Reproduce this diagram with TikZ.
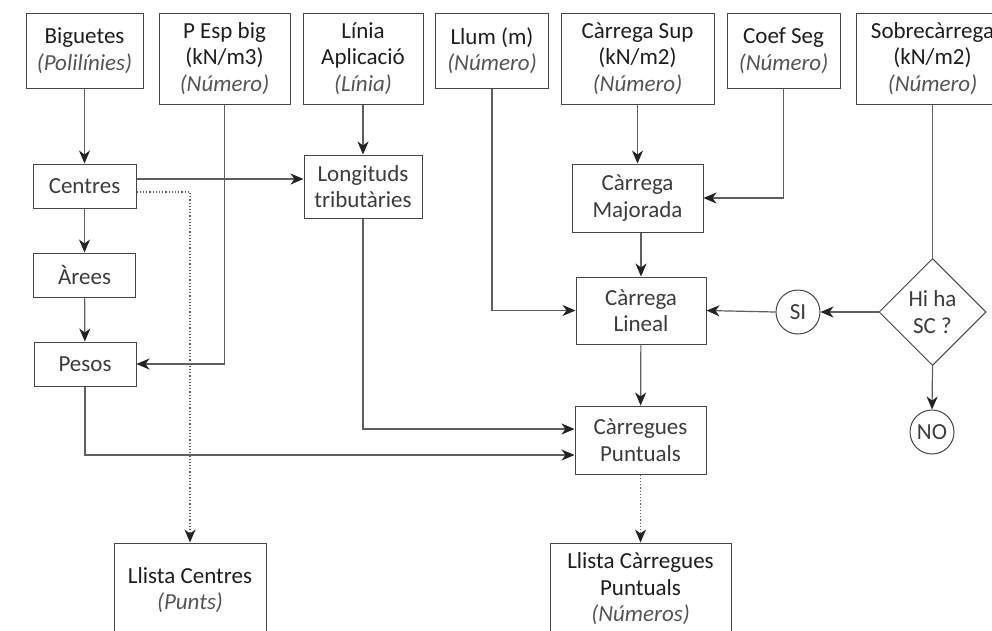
\documentclass[tikz,border=0pt]{standalone}
\usepackage{fontspec}
\setmainfont{Carlito}
\usetikzlibrary{arrows.meta,shapes.geometric}
\definecolor{bordercol}{RGB}{70,70,70}
\definecolor{linecol}{RGB}{95,95,95}
\definecolor{tipcol}{RGB}{35,35,35}
\definecolor{titlecol}{RGB}{30,30,30}
\definecolor{subcol}{RGB}{85,85,85}
\definecolor{proccol}{RGB}{60,60,60}
\newcommand\subtxt[1]{{\color{subcol}\itshape(#1)}}
\begin{document}
\begin{tikzpicture}[x=1pt,y=-1pt,
  basebox/.style={draw=bordercol, line width=1pt, fill=white, inner sep=0pt, align=center,
    font=\fontsize{23}{26.5}\selectfont},
  inbox/.style={basebox, text=titlecol},
  procbox/.style={basebox, text=proccol},
  circnode/.style={circle, draw=bordercol, line width=1pt, minimum size=44pt, inner sep=0pt,
    text=proccol, font=\fontsize{23}{26.5}\selectfont},
  decision/.style={diamond, draw=bordercol, line width=1pt, minimum width=107pt, minimum height=107pt,
    inner sep=0pt, align=center, text=proccol, font=\fontsize{23}{26.5}\selectfont},
  conn/.style={draw=linecol, line width=1.2pt, -{Stealth[length=13pt,width=11pt,inset=4pt,color=tipcol]}},
  dotconn/.style={conn, dotted}
]
\useasboundingbox (0,0) rectangle (992,630);
\clip (0,0) rectangle (992,630);
\fill[white] (0,0) rectangle (992,630);

% input boxes
\node[inbox, minimum width=117pt, minimum height=75pt] (big) at (84.5,50.5) {Biguetes\\\subtxt{Polilínies}};
\node[inbox, minimum width=131pt, minimum height=91pt] (pesp) at (224.5,58.5) {P Esp big\\(kN/m3)\\\subtxt{Número}};
\node[inbox, minimum width=120pt, minimum height=91pt] (linia) at (363,58.5) {Línia\\Aplicació\\\subtxt{Línia}};
\node[inbox, minimum width=113pt, minimum height=75pt] (llum) at (492,50.5) {Llum (m)\\\subtxt{Número}};
\node[inbox, minimum width=153pt, minimum height=91pt] (csup) at (637.5,58.5) {Càrrega Sup\\(kN/m2)\\\subtxt{Número}};
\node[inbox, minimum width=113pt, minimum height=75pt] (coef) at (783.5,50.5) {Coef Seg\\\subtxt{Número}};
\node[inbox, minimum width=152pt, minimum height=91pt] (sobre) at (932.5,58.5) {Sobrecàrrega\\(kN/m2)\\\subtxt{Número}};

% process boxes
\node[procbox, minimum width=103pt, minimum height=44pt] (centres) at (84.5,186) {Centres};
\node[procbox, minimum width=102pt, minimum height=44pt] (arees) at (84.5,275) {Àrees};
\node[procbox, minimum width=102pt, minimum height=44pt] (pesos) at (85,364) {Pesos};
\node[procbox, minimum width=118pt, minimum height=63pt] (long) at (363,186.5) {Longituds\\tributàries};
\node[procbox, minimum width=131pt, minimum height=68pt] (major) at (637.5,198) {Càrrega\\Majorada};
\node[procbox, minimum width=130pt, minimum height=67pt] (lineal) at (641,310.5) {Càrrega\\Lineal};
\node[procbox, minimum width=131pt, minimum height=68pt] (punt) at (640.5,440) {Càrregues\\Puntuals};

\node[decision] (diam) at (932.5,312) {Hi ha\\SC ?};
\node[circnode] (si) at (798,312) {SI};
\node[circnode] (no) at (932,432) {NO};

% output boxes
\node[inbox, minimum width=152pt, minimum height=94pt] (llcent) at (190,590) {Llista Centres\\\subtxt{Punts}};
\node[inbox, minimum width=181pt, minimum height=92pt] (llpunt) at (640.5,589) {Llista Càrregues\\Puntuals\\\subtxt{Números}};

% connectors
\draw[conn] (big) -- (centres);
\draw[conn] (pesp.south) |- (pesos.east);
\draw[conn] (linia) -- (long);
\draw[conn] ([yshift=7pt]centres.east) -- ([yshift=7pt]centres.east -| long.west);
\draw[dotconn] ([yshift=-6pt]centres.east) -| (llcent.north);
\draw[conn] (centres) -- (arees);
\draw[conn] (arees) -- (pesos);
\draw[conn] (pesos.south) |- ([yshift=-15pt]punt.west);
\draw[conn] (long.south) |- ([yshift=11pt]punt.west);
\draw[conn] (llum.south) |- (lineal.west);
\draw[conn] (csup) -- (major);
\draw[conn] (coef.south) |- (major.east);
\draw[conn] (major.south -| lineal.north) -- (lineal.north);
\draw[conn] (lineal) -- (punt);
\draw[draw=linecol, line width=1.2pt] (sobre.south) -- (diam.north);
\draw[conn] (diam.west) -- (si.east);
\draw[conn] (si.west) -- (lineal.east);
\draw[conn] (diam.south) -- (no.north);
\draw[dotconn] (punt.south) -- (llpunt.north);
\end{tikzpicture}
\end{document}
